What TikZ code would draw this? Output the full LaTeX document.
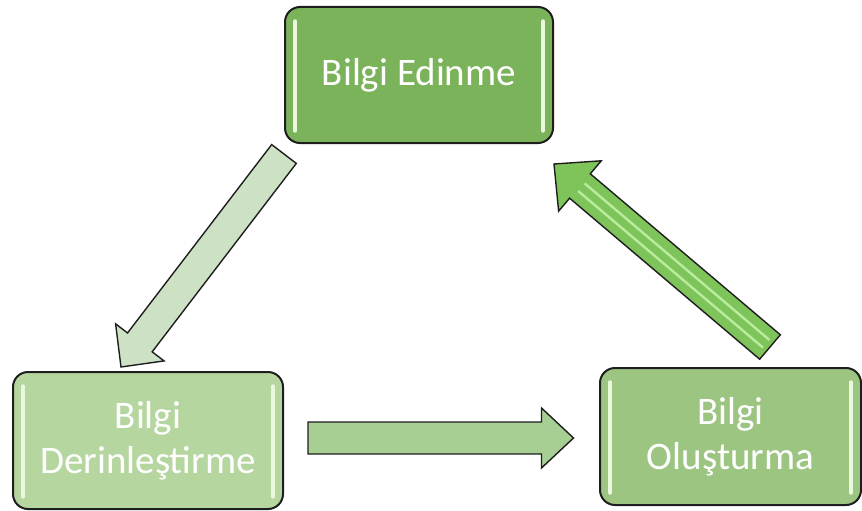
\documentclass[tikz,border=0pt]{standalone}
\usepackage{fontspec}
\setmainfont{Carlito}
\usetikzlibrary{calc}

\definecolor{boxA}{HTML}{7BB35B}
\definecolor{boxB}{HTML}{B6D6A0}
\definecolor{boxC}{HTML}{9CC582}
\definecolor{glint}{HTML}{EAF8DE}
\definecolor{arrA}{HTML}{CDE2C4}
\definecolor{arrB}{HTML}{A7CE93}
\definecolor{arrC}{HTML}{7EC45A}
\definecolor{arrCstripe}{HTML}{B9EC9C}
\definecolor{edge}{HTML}{1E1E1E}

\tikzset{
  stage/.style={draw=edge, line width=2pt, rounded corners=15pt, text=white,
    align=center, font=\fontsize{39}{45}\selectfont, inner sep=0pt},
  glintline/.style={draw=glint, line width=3.4pt, line cap=round},
  blockarrow/.style={draw=edge, line width=1.4pt, line join=miter},
  stripe/.style={draw=arrCstripe, line width=2.4pt, line cap=butt, shorten <=5pt, shorten >=2pt},
}

% block arrow from #1 to #2: half shaft width #3, half head width #4,
% head length #5, style #6; the head base is stored as coordinate (#1h)
\newcommand\blkarrow[6]{%
  \coordinate (#1h) at ($(#2)!#5!(#1)$);
  \draw[#6] ($(#1)!#3!90:(#2)$) -- ($(#1h)!#3!90:(#2)$) -- ($(#1h)!#4!90:(#2)$)
    -- (#2) -- ($(#1h)!#4!-90:(#2)$) -- ($(#1h)!#3!-90:(#2)$)
    -- ($(#1)!#3!-90:(#2)$) -- cycle;
}

\begin{document}
\begin{tikzpicture}[x=1pt,y=-1pt]
  \useasboundingbox (0,0) rectangle (862,511);

  % stages
  \node[stage, fill=boxA, minimum width=268pt, minimum height=136pt] (edin) at (419,75) {Bilgi Edinme};
  \node[stage, fill=boxB, minimum width=270pt, minimum height=137pt] (derin) at (148,440.5) {Bilgi\\Derinleştirme};
  \node[stage, fill=boxC, minimum width=261pt, minimum height=137pt] (olus) at (730.5,436.5) {Bilgi\\Oluşturma};

  % glossy vertical highlights inside each stage
  \foreach \n in {edin,derin,olus}{
    \draw[glintline] ($(\n.north west)+(11,15)$) -- ($(\n.south west)+(11,-13)$);
    \draw[glintline] ($(\n.north east)+(-11,15)$) -- ($(\n.south east)+(-11,-13)$);
  }

  % connector end points
  \coordinate (a1s) at ($(edin.south west)+(0,10)$);
  \coordinate (a1e) at ($(derin.north west)+(109,-4)$);
  \coordinate (a2s) at ($(derin.east)+(24,-2.5)$);
  \coordinate (a2e) at ($(olus.west)+(-25.5,1.5)$);
  \coordinate (a3s) at ($(olus.north east)+(-92,-20)$);
  \coordinate (a3e) at ($(edin.south east)+(0,20)$);

  % Edinme -> Derinleştirme
  \blkarrow{a1s}{a1e}{15.5pt}{30.5pt}{31pt}{blockarrow, fill=arrA}
  % Derinleştirme -> Oluşturma
  \blkarrow{a2s}{a2e}{16pt}{30pt}{32pt}{blockarrow, fill=arrB}
  % Oluşturma -> Edinme
  \blkarrow{a3s}{a3e}{16pt}{33pt}{34pt}{blockarrow, fill=arrC}
  \draw[stripe] ($(a3s)!5pt!90:(a3e)$) -- ($(a3sh)!5pt!90:(a3e)$);
  \draw[stripe] ($(a3s)!5pt!-90:(a3e)$) -- ($(a3sh)!5pt!-90:(a3e)$);
\end{tikzpicture}
\end{document}
